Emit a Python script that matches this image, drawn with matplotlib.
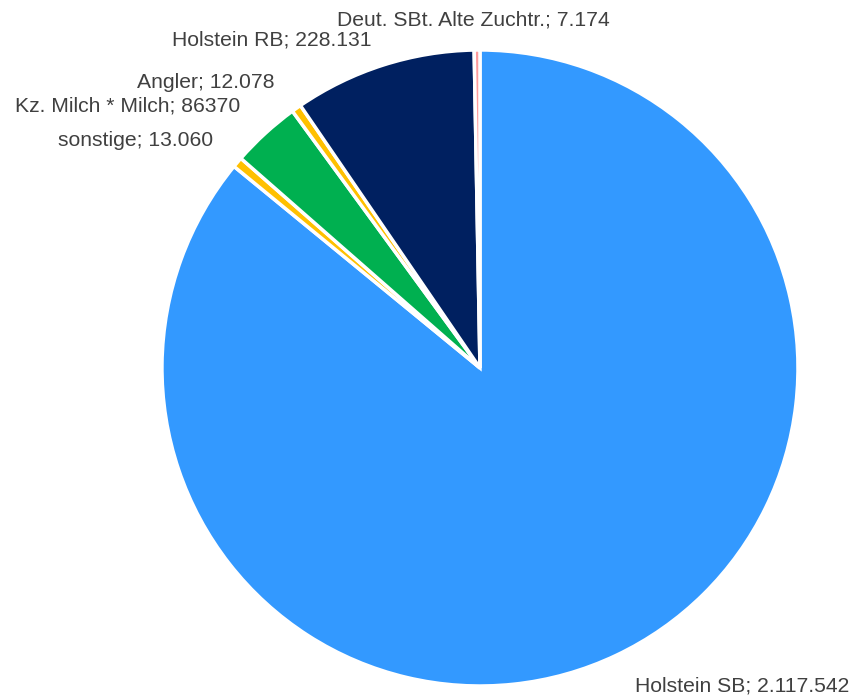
import matplotlib.pyplot as plt

plt.rcParams['font.family'] = ['Liberation Sans', 'DejaVu Sans']

# data, clockwise from 12 o'clock
breeds = ['Holstein SB', 'sonstige', 'Kz. Milch * Milch', 'Angler',
          'Holstein RB', 'Deut. SBt. Alte Zuchtr.']
counts = [2117542, 13060, 86370, 12078, 228131, 7174]
count_text = ['2.117.542', '13.060', '86370', '12.078', '228.131', '7.174']
colors = ['#3399FF', '#FFC000', '#00B050', '#FFC000', '#002060', '#FF9B9B']

# label positions (pie radius units)
label_pos = [(0.824, -1.0), (-1.083, 0.714), (-1.107, 0.824),
             (-0.862, 0.899), (-0.656, 1.031), (-0.02, 1.094)]

fig = plt.figure(figsize=(8.52, 6.98), dpi=100)
ax = fig.add_axes([0.1901, 0.0172, 0.7465, 0.9112])

ax.pie(counts, colors=colors, startangle=90, counterclock=False,
       radius=1.0, wedgeprops=dict(edgecolor='white', linewidth=2.5))

for name, txt, (x, y) in zip(breeds, count_text, label_pos):
    ax.text(x, y, f'{name}; {txt}', ha='center', va='center',
            fontsize=15.2, color='#404040', clip_on=False)

ax.set_xlim(-1, 1)
ax.set_ylim(-1, 1)
ax.set_aspect('equal')
ax.axis('off')

fig.savefig('out.png', dpi=100)
